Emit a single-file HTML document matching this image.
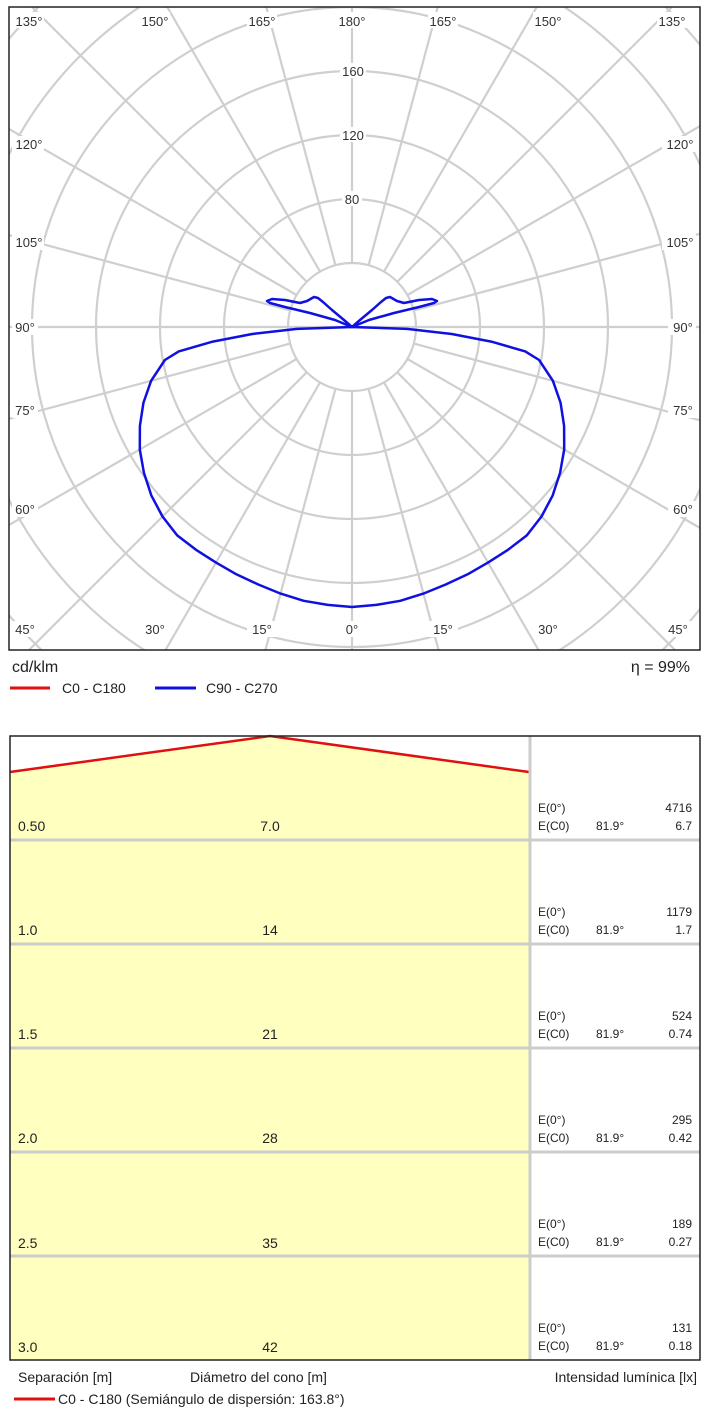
<!DOCTYPE html>
<html><head><meta charset="utf-8"><style>
body{margin:0;background:#fff;}
svg text{font-family:"Liberation Sans",sans-serif;}
</style></head><body>
<svg width="710" height="1422" viewBox="0 0 710 1422" xmlns="http://www.w3.org/2000/svg">
<defs><clipPath id="c"><rect x="9" y="7" width="691" height="643"/></clipPath></defs>
<g clip-path="url(#c)" stroke="#cfcfcf" stroke-width="2.2" fill="none">
<circle cx="352" cy="327" r="64"/><circle cx="352" cy="327" r="128"/><circle cx="352" cy="327" r="192"/><circle cx="352" cy="327" r="256"/><circle cx="352" cy="327" r="320"/><circle cx="352" cy="327" r="384"/><circle cx="352" cy="327" r="448"/><circle cx="352" cy="327" r="512"/>
<line x1="0" y1="327" x2="710" y2="327"/>
<g transform="translate(352 327)">
<line x1="0" y1="64" x2="0" y2="700"/><line x1="0" y1="-64" x2="0" y2="-700"/>
<g transform="rotate(15)"><line x1="0" y1="64" x2="0" y2="700"/><line x1="0" y1="-64" x2="0" y2="-700"/></g>
<g transform="rotate(30)"><line x1="0" y1="64" x2="0" y2="700"/><line x1="0" y1="-64" x2="0" y2="-700"/></g>
<g transform="rotate(45)"><line x1="0" y1="64" x2="0" y2="700"/><line x1="0" y1="-64" x2="0" y2="-700"/></g>
<g transform="rotate(60)"><line x1="0" y1="64" x2="0" y2="700"/><line x1="0" y1="-64" x2="0" y2="-700"/></g>
<g transform="rotate(75)"><line x1="0" y1="64" x2="0" y2="700"/><line x1="0" y1="-64" x2="0" y2="-700"/></g>
<g transform="rotate(-15)"><line x1="0" y1="64" x2="0" y2="700"/><line x1="0" y1="-64" x2="0" y2="-700"/></g>
<g transform="rotate(-30)"><line x1="0" y1="64" x2="0" y2="700"/><line x1="0" y1="-64" x2="0" y2="-700"/></g>
<g transform="rotate(-45)"><line x1="0" y1="64" x2="0" y2="700"/><line x1="0" y1="-64" x2="0" y2="-700"/></g>
<g transform="rotate(-60)"><line x1="0" y1="64" x2="0" y2="700"/><line x1="0" y1="-64" x2="0" y2="-700"/></g>
<g transform="rotate(-75)"><line x1="0" y1="64" x2="0" y2="700"/><line x1="0" y1="-64" x2="0" y2="-700"/></g>
</g>
</g>
<g font-size="13" fill="#333" text-anchor="middle">
<g fill="#fff" stroke="none">
<rect x="14" y="12" width="30" height="16"/><rect x="140" y="12" width="30" height="16"/><rect x="247" y="12" width="30" height="16"/><rect x="337" y="12" width="30" height="16"/><rect x="428" y="12" width="30" height="16"/><rect x="533" y="12" width="30" height="16"/><rect x="657" y="12" width="30" height="16"/>
<rect x="340" y="63" width="26" height="15"/><rect x="340" y="127" width="26" height="15"/><rect x="342" y="191" width="20" height="15"/>
<rect x="12" y="136" width="32" height="16"/><rect x="12" y="234" width="32" height="16"/><rect x="12" y="319" width="26" height="16"/><rect x="12" y="402" width="26" height="16"/><rect x="12" y="501" width="26" height="16"/><rect x="12" y="621" width="26" height="16"/>
<rect x="662" y="136" width="34" height="16"/><rect x="662" y="234" width="34" height="16"/><rect x="668" y="319" width="28" height="16"/><rect x="668" y="402" width="28" height="16"/><rect x="668" y="501" width="28" height="16"/><rect x="668" y="621" width="28" height="16"/>
<rect x="140" y="621" width="30" height="16"/><rect x="247" y="621" width="30" height="16"/><rect x="342" y="621" width="20" height="16"/><rect x="428" y="621" width="30" height="16"/><rect x="533" y="621" width="30" height="16"/>
</g>
<text x="29" y="26">135°</text><text x="155" y="26">150°</text><text x="262" y="26">165°</text><text x="352" y="26">180°</text><text x="443" y="26">165°</text><text x="548" y="26">150°</text><text x="672" y="26">135°</text>
<text x="353" y="76">160</text><text x="353" y="140">120</text><text x="352" y="204">80</text>
<text x="29" y="149">120°</text><text x="29" y="247">105°</text><text x="25" y="332">90°</text><text x="25" y="415">75°</text><text x="25" y="514">60°</text><text x="25" y="634">45°</text>
<text x="680" y="149">120°</text><text x="680" y="247">105°</text><text x="683" y="332">90°</text><text x="683" y="415">75°</text><text x="683" y="514">60°</text><text x="678" y="634">45°</text>
<text x="155" y="634">30°</text><text x="262" y="634">15°</text><text x="352" y="634">0°</text><text x="443" y="634">15°</text><text x="548" y="634">30°</text>
</g>
<rect x="9" y="7" width="691" height="643" fill="none" stroke="#222" stroke-width="1.5"/>
<g fill="none" stroke="#1010e0" stroke-width="2.5" stroke-linejoin="round">
<polyline points="352,327 407,328.9 451.8,334 491.2,341.6 525.3,351.4 539.1,360 552.9,380.8 560.6,402.9 564.1,425.9 564.2,449.5 560.1,472.7 552.7,495.4 541.5,516.5 526.8,535.4 508,549.8 488,562.6 467.4,574.4 445.7,584.5 423.4,593.6 400.3,600.8 376.3,604.9 352,607 327.7,604.9 303.7,600.8 280.6,593.6 258.3,584.5 236.6,574.4 216,562.6 196,549.8 177.2,535.4 162.5,516.5 151.3,495.4 143.9,472.7 139.8,449.5 139.9,425.9 143.4,402.9 151.1,380.8 164.9,360 178.7,351.4 212.8,341.6 252.2,334 297,328.9 352,327"/>
<polyline points="352,327 335,320 310,313 285,307 270,303 267,301 272,299 285,300 300,303 307,301 314,297 318,298 323,302 332,310 344,320 352,327 360,320 372,310 381,302 386,298 390,297 397,301 404,303 419,300 432,299 437,301 434,303 419,307 394,313 369,320 352,327"/>
</g>
<text x="12" y="672" font-size="16" fill="#222">cd/klm</text>
<text x="690" y="672" font-size="16" fill="#222" text-anchor="end">η = 99%</text>
<line x1="10" y1="688" x2="50" y2="688" stroke="#e01010" stroke-width="3"/>
<text x="62" y="693" font-size="14" fill="#222">C0 - C180</text>
<line x1="155" y1="688" x2="196" y2="688" stroke="#1010e0" stroke-width="3"/>
<text x="206" y="693" font-size="14" fill="#222">C90 - C270</text>

<rect x="10" y="736" width="519" height="624" fill="#ffffc0"/>
<polygon points="10,736 270,736 10,772" fill="#fff"/><polygon points="270,736 529,736 529,772" fill="#fff"/>
<polyline points="10,772 270,736 529,772" fill="none" stroke="#e01010" stroke-width="2.5"/>
<g stroke="#ccc" stroke-width="3">
<line x1="10" y1="840" x2="700" y2="840"/><line x1="10" y1="944" x2="700" y2="944"/><line x1="10" y1="1048" x2="700" y2="1048"/><line x1="10" y1="1152" x2="700" y2="1152"/><line x1="10" y1="1256" x2="700" y2="1256"/>
<line x1="530" y1="736" x2="530" y2="1360"/>
</g>
<rect x="10" y="736" width="690" height="624" fill="none" stroke="#222" stroke-width="1.5"/>
<g font-size="14" fill="#222">
<text x="18" y="831">0.50</text><text x="270" y="831" text-anchor="middle">7.0</text>
<text x="18" y="935">1.0</text><text x="270" y="935" text-anchor="middle">14</text>
<text x="18" y="1039">1.5</text><text x="270" y="1039" text-anchor="middle">21</text>
<text x="18" y="1143">2.0</text><text x="270" y="1143" text-anchor="middle">28</text>
<text x="18" y="1248">2.5</text><text x="270" y="1248" text-anchor="middle">35</text>
<text x="18" y="1352">3.0</text><text x="270" y="1352" text-anchor="middle">42</text>
</g>
<g font-size="12" fill="#222">
<g><text x="538" y="812">E(0°)</text><text x="692" y="812" text-anchor="end">4716</text><text x="538" y="830">E(C0)</text><text x="596" y="830">81.9°</text><text x="692" y="830" text-anchor="end">6.7</text></g>
<g transform="translate(0 104)"><text x="538" y="812">E(0°)</text><text x="692" y="812" text-anchor="end">1179</text><text x="538" y="830">E(C0)</text><text x="596" y="830">81.9°</text><text x="692" y="830" text-anchor="end">1.7</text></g>
<g transform="translate(0 208)"><text x="538" y="812">E(0°)</text><text x="692" y="812" text-anchor="end">524</text><text x="538" y="830">E(C0)</text><text x="596" y="830">81.9°</text><text x="692" y="830" text-anchor="end">0.74</text></g>
<g transform="translate(0 312)"><text x="538" y="812">E(0°)</text><text x="692" y="812" text-anchor="end">295</text><text x="538" y="830">E(C0)</text><text x="596" y="830">81.9°</text><text x="692" y="830" text-anchor="end">0.42</text></g>
<g transform="translate(0 416)"><text x="538" y="812">E(0°)</text><text x="692" y="812" text-anchor="end">189</text><text x="538" y="830">E(C0)</text><text x="596" y="830">81.9°</text><text x="692" y="830" text-anchor="end">0.27</text></g>
<g transform="translate(0 520)"><text x="538" y="812">E(0°)</text><text x="692" y="812" text-anchor="end">131</text><text x="538" y="830">E(C0)</text><text x="596" y="830">81.9°</text><text x="692" y="830" text-anchor="end">0.18</text></g>
</g>
<g font-size="14" fill="#222">
<text x="18" y="1382">Separación [m]</text><text x="190" y="1382">Diámetro del cono [m]</text><text x="697" y="1382" text-anchor="end">Intensidad lumínica [lx]</text>
<text x="58" y="1404">C0 - C180 (Semiángulo de dispersión: 163.8°)</text>
</g>
<line x1="14" y1="1399" x2="55" y2="1399" stroke="#e01010" stroke-width="3"/>
</svg>
</body></html>
